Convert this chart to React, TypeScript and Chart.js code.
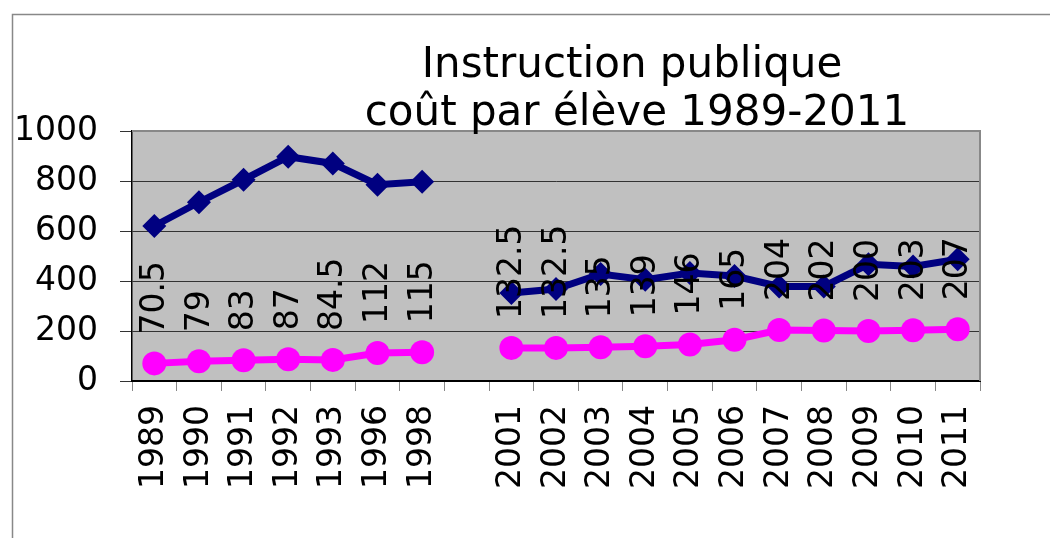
import React, { useEffect, useRef } from "react";
import { Chart, registerables } from "chart.js";

Chart.register(...registerables);

const categories = ["1989", "1990", "1991", "1992", "1993", "1996", "1998", "", "2001", "2002", "2003", "2004", "2005", "2006", "2007", "2008", "2009", "2010", "2011"];
const coutParEleve = [620, 715, 805, 897, 870, 785, 797, null, 352, 368, 428, 405, 432, 420, 378, 378, 467, 458, 487];
const indice = [70.5, 79, 83, 87, 84.5, 112, 115, null, 132.5, 132.5, 135, 139, 146, 165, 204, 202, 200, 203, 207];
const yTicks = [0, 200, 400, 600, 800, 1000];
const titleLines = ["Instruction publique", "coût par élève 1989-2011"];

const FONT = "'DejaVu Sans', Verdana, sans-serif";

const framePlugin = {
  id: "frame",
  beforeDraw(chart: any) {
    const { ctx, chartArea } = chart;
    ctx.save();
    ctx.fillStyle = "#ffffff";
    ctx.fillRect(0, 0, chart.width, chart.height);
    ctx.strokeStyle = "#888888";
    ctx.lineWidth = 1.5;
    ctx.beginPath();
    ctx.moveTo(12.5, chart.height);
    ctx.lineTo(12.5, 14.5);
    ctx.lineTo(chart.width, 14.5);
    ctx.stroke();
    ctx.fillStyle = "#C0C0C0";
    ctx.fillRect(chartArea.left, chartArea.top, chartArea.right - chartArea.left, chartArea.bottom - chartArea.top);
    ctx.restore();
  },
  afterDraw(chart: any) {
    const { ctx, chartArea } = chart;
    ctx.save();
    ctx.strokeStyle = "#888888";
    ctx.lineWidth = 2;
    ctx.beginPath();
    ctx.moveTo(chartArea.left, chartArea.top);
    ctx.lineTo(chartArea.right, chartArea.top);
    ctx.lineTo(chartArea.right, chartArea.bottom);
    ctx.stroke();
    ctx.fillStyle = "#000000";
    ctx.font = `42px ${FONT}`;
    ctx.textAlign = "center";
    ctx.textBaseline = "alphabetic";
    ctx.fillText(titleLines[0], 632, 77);
    ctx.fillText(titleLines[1], 637, 125);
    ctx.restore();
  },
};

const labelPlugin = {
  id: "vlabels",
  afterDatasetsDraw(chart: any) {
    const { ctx } = chart;
    const meta = chart.getDatasetMeta(1);
    ctx.save();
    ctx.fillStyle = "#000000";
    ctx.font = `33px ${FONT}`;
    ctx.textAlign = "left";
    ctx.textBaseline = "middle";
    meta.data.forEach((pt: any, i: number) => {
      const v = indice[i];
      if (v === null || v === undefined) return;
      ctx.save();
      ctx.translate(pt.x + 1, pt.y - 29);
      ctx.rotate(-Math.PI / 2);
      ctx.fillText(String(v), 0, 0);
      ctx.restore();
    });
    ctx.restore();
  },
};

export default function App() {
  const ref = useRef<HTMLCanvasElement>(null);
  useEffect(() => {
    if (!ref.current) return;
    const chart = new Chart(ref.current, {
      type: "line",
      data: {
        labels: categories,
        datasets: [
          {
            label: "coût par élève",
            data: coutParEleve,
            borderColor: "#000080",
            backgroundColor: "#000080",
            borderWidth: 7,
            pointStyle: "rectRot",
            pointRadius: 12,
            pointBorderWidth: 0,
            pointBackgroundColor: "#000080",
            spanGaps: false,
            tension: 0,
          },
          {
            label: "indice",
            data: indice,
            borderColor: "#FF00FF",
            backgroundColor: "#FF00FF",
            borderWidth: 7,
            pointStyle: "circle",
            pointRadius: 12,
            pointBorderWidth: 0,
            pointBackgroundColor: "#FF00FF",
            spanGaps: false,
            tension: 0,
          },
        ],
      },
      options: {
        responsive: false,
        animation: false,
        events: [],
        layout: { padding: { left: 0, top: 131, right: 70, bottom: 0 } },
        plugins: { legend: { display: false }, title: { display: false }, tooltip: { enabled: false } },
        scales: {
          x: {
            type: "category",
            offset: true,
            grid: { offset: true, drawOnChartArea: false, drawTicks: true, tickLength: 10, tickColor: "#888888" },
            border: { color: "#000000", width: 2 },
            ticks: {
              autoSkip: false,
              minRotation: 90,
              maxRotation: 90,
              padding: 14,
              color: "#000000",
              font: { family: FONT, size: 33 },
            },
            afterFit: (s: any) => {
              s.height = 157;
            },
          },
          y: {
            min: 0,
            max: 1000,
            afterBuildTicks: (s: any) => {
              s.ticks = yTicks.map((v) => ({ value: v }));
            },
            grid: { color: "#333333", lineWidth: 1, tickLength: 12, tickColor: "#333333" },
            border: { color: "#000000", width: 1.5 },
            ticks: {
              padding: 22,
              color: "#000000",
              font: { family: FONT, size: 33 },
              callback: (v: any) => String(v),
            },
            afterFit: (s: any) => {
              s.width = 132;
            },
          },
        },
      },
      plugins: [framePlugin, labelPlugin],
    });
    return () => chart.destroy();
  }, []);
  return (
    <div style={{ position: "absolute", left: 0, top: 0, width: 1050, height: 538 }}>
      <canvas ref={ref} width={1050} height={538} />
    </div>
  );
}
